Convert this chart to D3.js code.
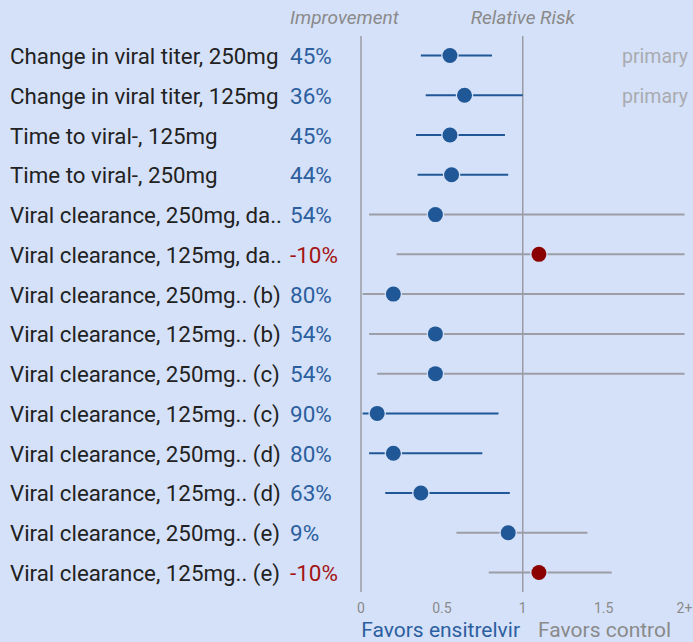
<!DOCTYPE html>
<html>
<head>
<meta charset="utf-8">
<script src="https://cdn.jsdelivr.net/npm/d3@7"></script>
<style>
  html, body { margin: 0; padding: 0; background: #d5e1f8; }
  svg { display: block; font-family: Roboto, "Open Sans", sans-serif; }
</style>
</head>
<body>
<svg id="chart" width="693" height="642"></svg>
<script>
// Outcomes, in display order
const outcomes = [
  "Change in viral titer, 250mg",
  "Change in viral titer, 125mg",
  "Time to viral-, 125mg",
  "Time to viral-, 250mg",
  "Viral clearance, 250mg, da..",
  "Viral clearance, 125mg, da..",
  "Viral clearance, 250mg.. (b)",
  "Viral clearance, 125mg.. (b)",
  "Viral clearance, 250mg.. (c)",
  "Viral clearance, 125mg.. (c)",
  "Viral clearance, 250mg.. (d)",
  "Viral clearance, 125mg.. (d)",
  "Viral clearance, 250mg.. (e)",
  "Viral clearance, 125mg.. (e)"
];
// Improvement (%) = 1 - relative risk
const improvement = [45, 36, 45, 44, 54, -10, 80, 54, 54, 90, 80, 63, 9, -10];
// Relative risk point estimates
const relRisk = [0.55, 0.64, 0.55, 0.56, 0.46, 1.10, 0.20, 0.46, 0.46, 0.10, 0.20, 0.37, 0.91, 1.10];
// 95% CI bounds
const ciLow  = [0.37, 0.40, 0.34, 0.35, 0.05, 0.22, 0.01, 0.05, 0.10, 0.01, 0.05, 0.15, 0.59, 0.79];
const ciHigh = [0.81, 1.00, 0.89, 0.91, 3.40, 2.90, 4.10, 3.30, 3.00, 0.85, 0.75, 0.92, 1.40, 1.55];
// Primary endpoint flags
const primary = [true, true, false, false, false, false, false, false, false, false, false, false, false, false];
// Axis ticks
const tickValues = [0, 0.5, 1, 1.5, 2];
const tickLabels = ["0", "0.5", "1", "1.5", "2+"];

const rows = outcomes.map((name, i) => ({
  name, imp: improvement[i], rr: relRisk[i], lo: ciLow[i], hi: ciHigh[i], primary: primary[i]
}));

const BG = "#d5e1f8";
const BLUE = "#1f5797";
const BLUE_TEXT = "#2c5f9f";
const RED = "#8b0000";
const RED_TEXT = "#a31515";
const GRAY_LINE = "#9b9ea6";

const svg = d3.select("#chart");
svg.append("rect").attr("width", 693).attr("height", 642).attr("fill", BG);

const x = d3.scaleLinear().domain([0, 2]).range([361, 684.5]).clamp(true);
const y = d3.scalePoint().domain(d3.range(rows.length)).range([55.5, 572.5]);

// Column headers
svg.append("text").attr("x", 290).attr("y", 24)
  .attr("font-size", 19).attr("font-style", "italic").attr("fill", "#8a8a8a")
  .text("Improvement");
svg.append("text").attr("x", x(1)).attr("y", 24).attr("text-anchor", "middle")
  .attr("font-size", 19).attr("font-style", "italic").attr("fill", "#8a8a8a")
  .text("Relative Risk");

// Reference lines at 0 and 1
[0, 1].forEach(v => {
  svg.append("line")
    .attr("x1", x(v)).attr("x2", x(v)).attr("y1", 36).attr("y2", 592)
    .attr("stroke", "#9a9ca3").attr("stroke-width", 1.5);
});

const g = svg.append("g").selectAll("g").data(rows).join("g")
  .attr("transform", (d, i) => `translate(0,${y(i)})`);

// Labels
g.append("text").attr("x", 10).attr("y", 8.5)
  .attr("font-size", 22.3).attr("fill", "#222")
  .text(d => d.name);

g.append("text").attr("x", 290).attr("y", 8.5)
  .attr("font-size", 22.5)
  .attr("fill", d => d.imp < 0 ? RED_TEXT : BLUE_TEXT)
  .text(d => d.imp + "%");

g.filter(d => d.primary).append("text")
  .attr("x", 688).attr("y", 7.5).attr("text-anchor", "end")
  .attr("font-size", 19.5).attr("fill", "#a9abb0")
  .text("primary");

// Confidence intervals: blue when entirely below 1, gray otherwise
g.append("line")
  .attr("x1", d => x(d.lo)).attr("x2", d => x(d.hi))
  .attr("stroke", d => d.hi <= 1 ? BLUE : GRAY_LINE)
  .attr("stroke-width", 2);

// Point estimates with a halo
g.append("circle")
  .attr("cx", d => x(d.rr)).attr("r", 7.5)
  .attr("fill", d => d.rr > 1 ? RED : BLUE)
  .attr("stroke", BG).attr("stroke-width", 2.5)
  .attr("paint-order", "stroke");

// Bottom axis labels
const axis = svg.append("g");
axis.selectAll("text").data(tickValues).join("text")
  .attr("x", d => x(d)).attr("y", 613).attr("text-anchor", "middle")
  .attr("font-size", 14).attr("fill", "#8a8a8a")
  .text((d, i) => tickLabels[i]);

svg.append("text").attr("x", 520).attr("y", 637).attr("text-anchor", "end")
  .attr("font-size", 21).attr("fill", BLUE_TEXT).text("Favors ensitrelvir");
svg.append("text").attr("x", 538).attr("y", 637)
  .attr("font-size", 21).attr("fill", "#8a8a8a").text("Favors control");
</script>
</body>
</html>
